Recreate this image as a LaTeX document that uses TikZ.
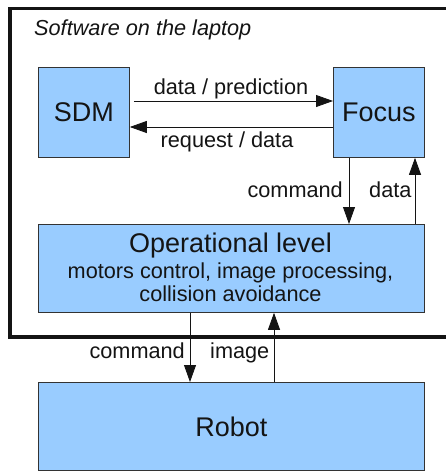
\documentclass[tikz,border=0pt]{standalone}
\usepackage{fontspec}
\setmainfont{Liberation Sans}
\usetikzlibrary{arrows.meta,calc}
\definecolor{boxblue}{RGB}{153,204,255}
\definecolor{ink}{RGB}{20,20,20}
\begin{document}
\begin{tikzpicture}[x=1pt,y=-1pt,
  box/.style={draw=black!80, line width=0.8pt, fill=boxblue, inner sep=0pt, anchor=north west, text=ink},
  big/.style={font=\fontsize{27}{30}\selectfont, text=ink},
  small/.style={font=\fontsize{21.7}{24}\selectfont, text=ink},
  conn/.style={draw=ink, line width=0.8pt, -{Triangle[length=17pt,width=12pt]}},
]
\useasboundingbox (0,0) rectangle (445,471);
% frame
\draw[line width=3.6pt, ink] (452,8.5) -- (10,8.5) -- (10,337) -- (452,337);
\node[anchor=base west, font=\fontsize{21.7}{24}\selectfont\itshape, text=ink, inner sep=0pt] (title) at (34,35) {Software on the laptop};
% boxes
\node[box, big, minimum width=91pt, minimum height=90pt] (sdm) at (38,67) {SDM};
\node[box, big, minimum width=91pt, minimum height=90pt] (focus) at (333,67) {Focus};
\node[box, minimum width=386pt, minimum height=88pt] (op) at (38,224) {};
\node[box, big, minimum width=386pt, minimum height=88pt] (robot) at (38,382) {Robot};
% op texts
\node[big, anchor=base, inner sep=0pt] (opt1) at (230.5,252) {Operational level};
\node[small, anchor=base, inner sep=0pt] (opt2) at (230.5,278.5) {motors control, image processing,};
\node[small, anchor=base, inner sep=0pt] (opt3) at (230.5,301.5) {collision avoidance};
% horizontal arrows
\draw[conn, shorten <=4pt] (sdm.east |- 0,101) -- (focus.west |- 0,101);
\draw[conn] (focus.west |- 0,127) -- (sdm.east |- 0,127);
\node[small, anchor=base, inner sep=0pt] (l1) at (231,94) {data / prediction};
\node[small, anchor=base, inner sep=0pt] (l2) at (227,147) {request / data};
% vertical arrows upper
\draw[conn] (349,0 |- focus.south) -- (349,0 |- op.north);
\draw[conn] (415,0 |- op.north) -- (415,0 |- focus.south);
\node[small, anchor=base east, inner sep=0pt] (l3) at (343,197) {command};
\node[small, anchor=base west, inner sep=0pt] (l4) at (369,197) {data};
% vertical arrows lower
\draw[conn] (190,0 |- op.south) -- (190,0 |- robot.north);
\draw[conn] (274,0 |- robot.north) -- (274,0 |- op.south);
\node[small, anchor=base east, inner sep=0pt] (l5) at (185,358) {command};
\node[small, anchor=base west, inner sep=0pt] (l6) at (210,358) {image};
\end{tikzpicture}
\end{document}
